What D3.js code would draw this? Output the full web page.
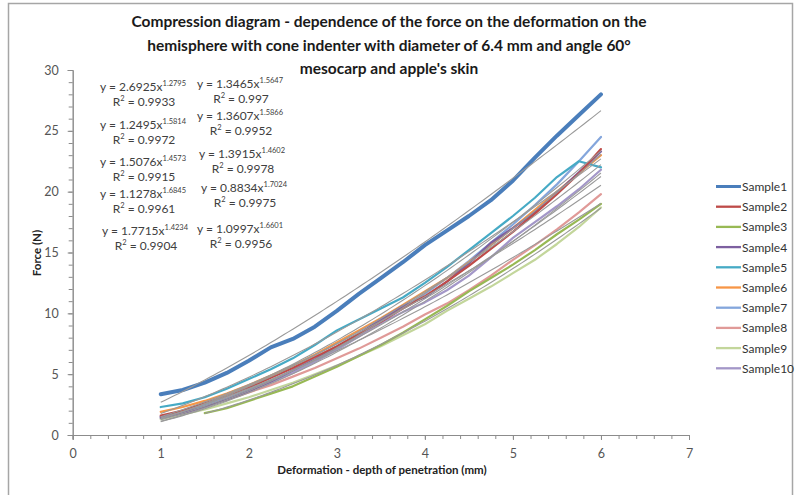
<!DOCTYPE html>
<html><head><meta charset="utf-8">
<script src="https://cdn.jsdelivr.net/npm/d3@7"></script>
<style>body{margin:0;background:#fff;overflow:hidden}</style>
</head><body>
<svg id="c" width="795" height="495"></svg>
<script>
// ---- data ----
const depth = [1,1.25,1.5,1.75,2,2.25,2.5,2.75,3,3.25,3.5,3.75,4,4.25,4.5,4.75,5,5.25,5.5,5.75,6];
const sample1  = [3.35,3.7,4.3,5.1,6.1,7.2,7.9,8.9,10.2,11.6,12.9,14.2,15.6,16.8,18.0,19.3,20.9,22.8,24.6,26.3,28.0];
const sample2  = [1.6,2.0,2.6,3.2,3.9,4.7,5.5,6.4,7.3,8.3,9.3,10.4,11.4,12.6,13.9,15.3,16.7,18.2,19.8,21.5,23.5];
const sample3  = [null,null,1.8,2.2,2.8,3.4,4.0,4.8,5.6,6.5,7.4,8.4,9.5,10.6,11.8,12.9,14.0,15.2,16.5,17.7,19.0];
const sample4  = [1.4,1.8,2.3,2.9,3.6,4.4,5.3,6.2,7.2,8.3,9.5,10.6,11.3,12.6,14.1,15.8,17.0,18.3,19.9,21.6,23.3];
const sample5  = [2.3,2.6,3.1,3.8,4.6,5.4,6.3,7.4,8.6,9.5,10.4,11.3,12.5,13.8,15.2,16.6,18.0,19.5,21.2,22.5,22.0];
const sample6  = [1.9,2.3,2.8,3.4,4.1,4.9,5.7,6.6,7.6,8.6,9.6,10.7,11.8,12.9,14.2,15.6,17.0,18.5,20.0,21.5,23.0];
const sample7  = [1.5,1.9,2.4,3.0,3.7,4.5,5.3,6.2,7.2,8.3,9.4,10.5,11.6,12.9,14.3,15.8,17.3,18.9,20.6,22.5,24.5];
const sample8  = [1.5,1.9,2.4,2.9,3.5,4.1,4.8,5.5,6.3,7.1,8.0,8.9,9.9,10.8,11.9,13.1,14.4,15.6,16.9,18.3,19.8];
const sample9  = [1.3,1.7,2.1,2.6,3.1,3.7,4.3,5.0,5.7,6.5,7.3,8.2,9.1,10.2,11.2,12.2,13.3,14.4,15.7,17.1,18.7];
const sample10 = [1.5,1.9,2.4,3.0,3.6,4.3,5.1,6.0,7.0,8.1,9.2,10.1,10.9,11.9,13.1,14.6,16.2,17.5,18.8,20.2,21.8];
const seriesNames = ["Sample1","Sample2","Sample3","Sample4","Sample5","Sample6","Sample7","Sample8","Sample9","Sample10"];
const seriesValues = [sample1,sample2,sample3,sample4,sample5,sample6,sample7,sample8,sample9,sample10];
const xTicks = [0,1,2,3,4,5,6,7];
const yTicks = [0,5,10,15,20,25,30];
// trendline equations (y = a x^b) as printed, left column then right column
const eqA  = [2.6925,1.2495,1.5076,1.1278,1.7715,1.3465,1.3607,1.3915,0.8834,1.0997];
const eqB  = ["1.2795","1.5814","1.4573","1.6845","1.4234","1.5647","1.5866","1.4602","1.7024","1.6601"];
const eqR2 = ["0.9933","0.9972","0.9915","0.9961","0.9904","0.997","0.9952","0.9978","0.9975","0.9956"];
const eqStart = [1,1,1,1,1,1,1,1,1.5,1];
const eqEnd = 6;

// ---- styles / layout ----
const colors = ["#4A7EBB","#BE4B48","#98B954","#7D60A0","#46AAC5","#F79646","#84A6DC","#E09A98","#C3D69B","#A397C8"];
const widths = [4,2.2,2.2,2.2,2.2,2.2,2.2,2.2,2.2,2.2];
const eqX = [143,143,143,143,145,240,240,242,244,240];
const eqY = [91,129,166,198,235,88,120,158,192,233];
const FONT = "Lato, 'Open Sans', sans-serif";

const svg = d3.select("#c");
svg.append("rect").attr("width",795).attr("height",495).attr("fill","#fff");
svg.append("rect").attr("x",8.5).attr("y",3.5).attr("width",784).attr("height",520)
  .attr("fill","none").attr("stroke","#a6a6a6").attr("stroke-width",1.5);

const x = d3.scaleLinear().domain([0,7]).range([72.7,689]);
const y = d3.scaleLinear().domain([0,30]).range([435,70]);

// title
const title = ["Compression diagram - dependence of the force on the deformation on the",
  "hemisphere with cone indenter with diameter of 6.4 mm and angle 60°",
  "mesocarp and apple's skin"];
svg.append("g").selectAll("text").data(title).join("text")
  .attr("x",389).attr("y",(d,i)=>27+i*23.5).attr("text-anchor","middle")
  .attr("font-family",FONT).attr("font-weight","bold").attr("font-size",15.5).attr("fill","#1a1a1a")
  .text(d=>d);

// axes
const axisColor = "#8c8c8c";
const gx = svg.append("g").attr("transform",`translate(0,${y(0)})`)
  .call(d3.axisBottom(x).tickValues(d3.range(0,7.001,0.2)).tickSize(4).tickFormat(""));
const gx2 = svg.append("g").attr("transform",`translate(0,${y(0)})`)
  .call(d3.axisBottom(x).tickValues(xTicks).tickSize(5).tickPadding(9).tickFormat(d3.format("d")));
const gy = svg.append("g").attr("transform",`translate(${x(0)},0)`)
  .call(d3.axisLeft(y).tickValues(d3.range(0,30.001,1)).tickSize(4).tickFormat(""));
const gy2 = svg.append("g").attr("transform",`translate(${x(0)},0)`)
  .call(d3.axisLeft(y).tickValues(yTicks).tickSize(5).tickPadding(9).tickFormat(d3.format("d")));
[gx,gx2,gy,gy2].forEach(g=>{
  g.selectAll("path,line").attr("stroke",axisColor);
  g.selectAll("text").attr("font-family",FONT).attr("font-size",12.5).attr("fill","#555");
});

svg.append("text").attr("x",382).attr("y",474).attr("text-anchor","middle")
  .attr("font-family",FONT).attr("font-weight","bold").attr("font-size",11.5).attr("fill","#222")
  .text("Deformation -  depth of penetration (mm)");
svg.append("text").attr("transform","translate(41,253) rotate(-90)").attr("text-anchor","middle")
  .attr("font-family",FONT).attr("font-weight","bold").attr("font-size",11.5).attr("fill","#222")
  .text("Force (N)");

// series
const line = d3.line().defined(d=>d[1]!=null).x(d=>x(d[0])).y(d=>y(d[1]));
const order = [9,8,7,6,5,4,3,2,1,0];
svg.append("g").selectAll("path").data(order).join("path")
  .attr("d",i=>line(depth.map((d,j)=>[d,seriesValues[i][j]])))
  .attr("fill","none").attr("stroke",i=>colors[i]).attr("stroke-width",i=>widths[i])
  .attr("stroke-linejoin","round").attr("stroke-linecap","round");

// trendlines from the printed equations
const tl = d3.line().x(d=>x(d[0])).y(d=>y(d[1]));
svg.append("g").selectAll("path").data(eqA).join("path")
  .attr("d",(a,i)=>{
    const xs = d3.range(eqStart[i], eqEnd+0.0001, 0.05);
    return tl(xs.map(v=>[v, a*Math.pow(v, +eqB[i])]));
  })
  .attr("fill","none").attr("stroke","#9a9a9a").attr("stroke-width",1.1);

// equation labels
const eg = svg.append("g").attr("font-family",FONT).attr("fill","#404040");
eqA.forEach((a,i)=>{
  const t = eg.append("text").attr("x",eqX[i]).attr("y",eqY[i]).attr("text-anchor","middle").attr("font-size",12);
  t.append("tspan").text(`y = ${a.toFixed(4)}x`);
  t.append("tspan").attr("font-size",7.5).attr("dy",-5).text(eqB[i]);
  const r = eg.append("text").attr("x",eqX[i]+1).attr("y",eqY[i]+14.5).attr("text-anchor","middle").attr("font-size",12);
  r.append("tspan").text("R");
  r.append("tspan").attr("font-size",7.5).attr("dy",-5).text("2");
  r.append("tspan").attr("dy",5).text(` = ${eqR2[i]}`);
});

// legend
const lg = svg.append("g").selectAll("g").data(seriesNames).join("g")
  .attr("transform",(d,i)=>`translate(716,${186.5+i*20.2})`);
lg.append("line").attr("x1",0).attr("x2",25).attr("stroke",(d,i)=>colors[i])
  .attr("stroke-width",(d,i)=>i===0?3:2.3);
lg.append("text").attr("x",26).attr("y",4.5).attr("font-family",FONT).attr("font-size",12)
  .attr("fill","#333").text(d=>d);
</script>
</body></html>
